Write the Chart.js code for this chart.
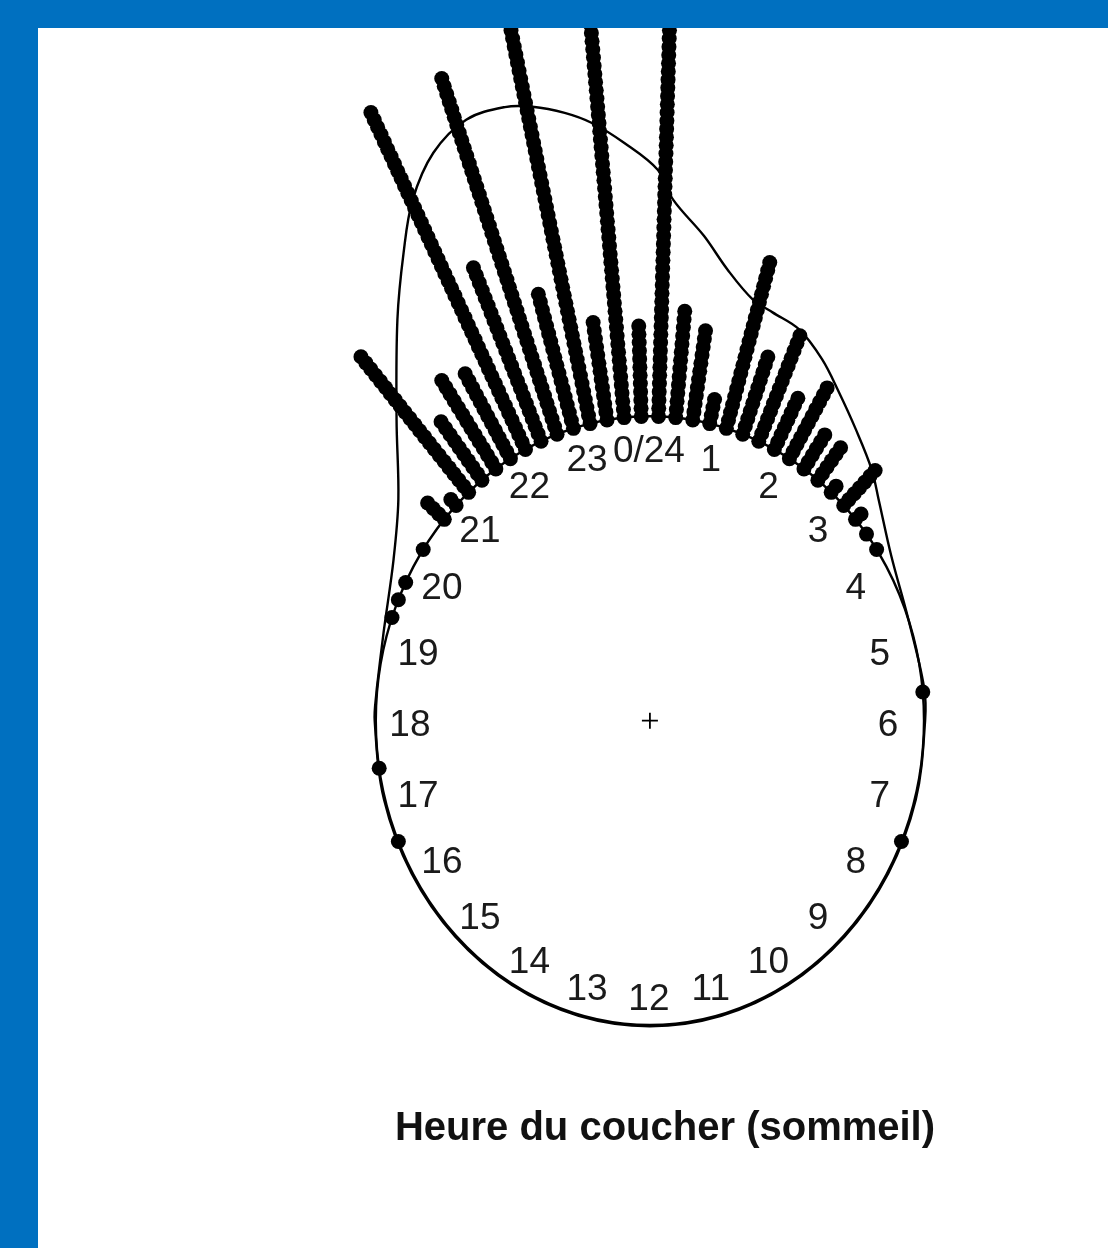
<!DOCTYPE html>
<html lang="fr">
<head>
<meta charset="utf-8">
<title>Heure du coucher (sommeil)</title>
<script src="https://cdn.jsdelivr.net/npm/chart.js@4.4.1/dist/chart.umd.min.js"></script>
<style>
  html, body { margin: 0; padding: 0; }
  body { width: 1108px; height: 1248px; background: #0070c0; position: relative; overflow: hidden; }
  #panel { position: absolute; left: 38px; top: 28px; width: 1070px; height: 1220px; background: #fff; overflow: hidden; }
  #chartBox { position: absolute; left: 0; top: -60px; width: 1070px; height: 1280px; }
  #caption {
    position: absolute; left: 627px; top: 1078px; transform: translateX(-50%);
    white-space: nowrap; font: bold 40px "Liberation Sans", Arial, sans-serif;
    line-height: 40px; color: #111;
  }
</style>
</head>
<body>
<div id="panel">
  <div id="chartBox"><canvas id="clockChart"></canvas></div>
  <div id="caption">Heure du coucher (sommeil)</div>
</div>
<script>
// hour labels round the dial, 0/24 at the top, clockwise
const hourLabels = ['0/24', '1', '2', '3', '4', '5', '6', '7', '8', '9', '10', '11',
  '12', '13', '14', '15', '16', '17', '18', '19', '20', '21', '22', '23'];

// stacked dots: bin centre (hours) and number of dots in that bin
const binHours = [5.64, 7.56, 16.44, 17.40, 19.32, 19.56, 19.80, 20.28, 20.76, 21.00,
  21.24, 21.48, 21.72, 21.96, 22.20, 22.44, 22.68, 22.92, 23.16, 23.40, 23.64, 23.88,
  0.12, 0.36, 0.60, 0.84, 1.08, 1.32, 1.56, 1.80, 2.04, 2.28, 2.52, 2.76, 3.00, 3.24, 3.48, 3.72];
const binCounts = [1, 1, 1, 1, 1, 1, 1, 1, 4, 2,
  23, 10, 14, 13, 47, 24, 47, 18, 58, 13, 55, 12,
  60, 14, 12, 4, 22, 11, 15, 8, 11, 6, 6, 2, 7, 2, 1, 1];

// kernel density curve, radius from the centre (circle = 1)
const densityHours = [18.4, 19.11, 19.97, 20.56, 21.13, 21.67, 21.98, 22.21, 22.47, 22.75,
  23.02, 23.2, 23.41, 23.59, 23.81, 0.06, 0.19, 0.47, 0.72, 1.01, 1.23, 1.53, 1.86, 2.17,
  2.54, 2.96, 3.26, 3.89, 4.70, 5.58, 6, 7, 8, 9, 10, 11, 12, 13, 14, 15, 16, 17, 18, 18.4];
const densityRadius = [1.002, 1.014, 1.075, 1.171, 1.354, 1.608, 1.781, 1.917, 2.026, 2.085,
  2.084, 2.062, 2.021, 1.975, 1.901, 1.810, 1.713, 1.605, 1.509, 1.434, 1.414, 1.396, 1.343, 1.281,
  1.217, 1.156, 1.107, 1.034, 1.0, 1.006, 1.004, 1.004, 1.004, 1.004, 1.004, 1.004, 1.004, 1.004,
  1.004, 1.004, 1.004, 1.004, 1.004, 1.002];

const SEP = 0.027;       // radial step between stacked dots
const LABEL_RX = 0.872;  // label radius, horizontal
const LABEL_RY = 0.90;   // label radius, vertical

function polar(hour, r) {
  const a = hour * Math.PI / 12;
  return { x: r * Math.sin(a), y: r * Math.cos(a) };
}

const dotPoints = [];
binHours.forEach((h, i) => {
  for (let k = 0; k < binCounts[i]; k++) {
    dotPoints.push(polar(h, 1 + k * SEP));
  }
});

const densityPoints = densityHours.map((h, i) => polar(h, densityRadius[i]));

const clockFace = {
  id: 'clockFace',
  beforeDatasetsDraw(chart) {
    const { ctx, scales: { x, y } } = chart;
    const cx = x.getPixelForValue(0);
    const cy = y.getPixelForValue(0);
    const rx = x.getPixelForValue(1) - cx;
    const ry = cy - y.getPixelForValue(1);
    ctx.save();
    ctx.strokeStyle = '#000';
    ctx.lineWidth = 2.4;
    ctx.beginPath();
    ctx.ellipse(cx, cy, rx, ry, 0, 0, Math.PI * 2);
    ctx.stroke();

    // centre mark
    ctx.lineWidth = 1.8;
    ctx.beginPath();
    ctx.moveTo(cx - 8, cy); ctx.lineTo(cx + 8, cy);
    ctx.moveTo(cx, cy - 8); ctx.lineTo(cx, cy + 8);
    ctx.stroke();

    ctx.fillStyle = '#1a1a1a';
    ctx.font = '37px "Liberation Sans", Arial, sans-serif';
    ctx.textAlign = 'center';
    ctx.textBaseline = 'alphabetic';
    hourLabels.forEach((lab, h) => {
      const a = h * Math.PI / 12;
      const px = x.getPixelForValue(LABEL_RX * Math.sin(a));
      const py = y.getPixelForValue(LABEL_RY * Math.cos(a));
      ctx.fillText(lab, px - 1, py + 15);
    });
    ctx.restore();
  }
};

new Chart(document.getElementById('clockChart'), {
  type: 'scatter',
  data: {
    datasets: [
      {
        label: 'coucher',
        data: dotPoints,
        pointRadius: 7.5,
        pointBackgroundColor: '#000',
        pointBorderWidth: 0,
        showLine: false
      },
      {
        label: 'densité',
        data: densityPoints,
        showLine: true,
        borderColor: '#000',
        borderWidth: 2.4,
        pointRadius: 0,
        tension: 0.35,
        fill: false
      }
    ]
  },
  options: {
    responsive: true,
    maintainAspectRatio: false,
    animation: false,
    events: [],
    layout: { padding: 0 },
    plugins: { legend: { display: false }, tooltip: { enabled: false } },
    scales: {
      x: { type: 'linear', min: -613 / 278, max: 457 / 278, display: false },
      y: { type: 'linear', min: -526 / 308, max: 754 / 308, display: false }
    }
  },
  plugins: [clockFace]
});
</script>
</body>
</html>
